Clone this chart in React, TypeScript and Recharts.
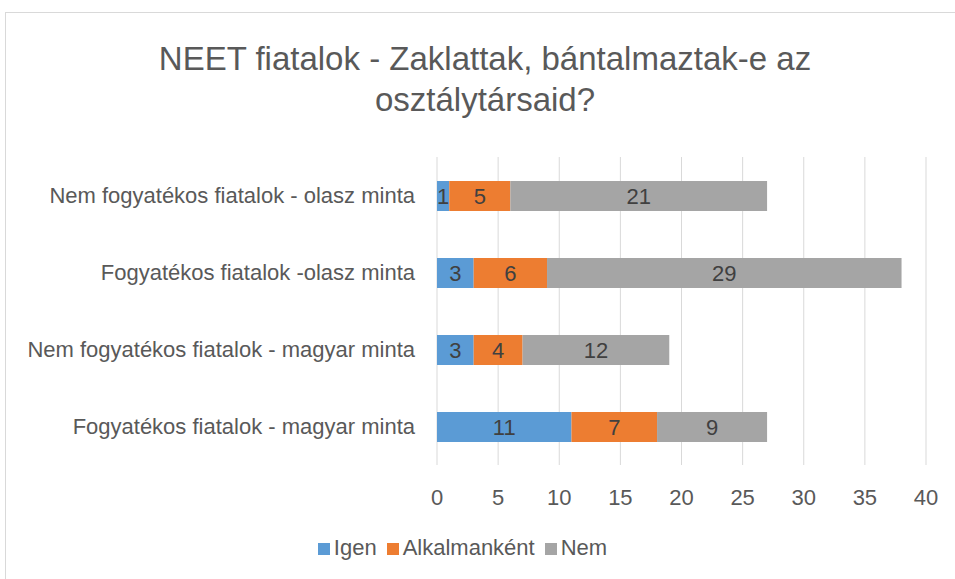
import React from 'react';
import { BarChart, Bar, XAxis, YAxis, CartesianGrid, LabelList, Legend } from 'recharts';

const categories = [
  'Nem fogyatékos fiatalok - olasz minta',
  'Fogyatékos fiatalok -olasz minta',
  'Nem fogyatékos fiatalok - magyar minta',
  'Fogyatékos fiatalok - magyar minta',
];
const seriesNames = ['Igen', 'Alkalmanként', 'Nem'];
const igen = [1, 3, 3, 11];
const alkalmankent = [5, 6, 4, 7];
const nem = [21, 29, 12, 9];
const xTicks = [0, 5, 10, 15, 20, 25, 30, 35, 40];

const data = categories.map((c, i) => ({
  name: c,
  Igen: igen[i],
  'Alkalmanként': alkalmankent[i],
  Nem: nem[i],
}));

const FONT = "'Liberation Sans', Arial, sans-serif";
const TEXT = '#595959';
const FS = 22;

export default function App() {
  return (
    <div style={{ position: 'absolute', left: 0, top: 0, width: 955, height: 579, overflow: 'hidden', background: '#fff', fontFamily: FONT }}>
      <div style={{ position: 'absolute', left: 5, top: 12, width: 970, height: 600, border: '1px solid #D9D9D9', boxSizing: 'border-box' }} />
      <div style={{ position: 'absolute', left: 0, top: 38, width: 970, textAlign: 'center', color: TEXT, fontSize: 33, lineHeight: '41px' }}>
        NEET fiatalok - Zaklattak, bántalmaztak-e az<br />osztálytársaid?
      </div>
      <div style={{ position: 'absolute', left: 0, top: 0 }}>
        <BarChart
          width={955}
          height={579}
          data={data}
          layout="vertical"
          margin={{ top: 157, right: 29, bottom: 74, left: 0 }}
          barSize={30}
        >
          <CartesianGrid horizontal={false} stroke="#D9D9D9" strokeWidth={1} />
          <XAxis
            type="number"
            domain={[0, 40]}
            ticks={xTicks}
            interval={0}
            axisLine={false}
            tickLine={false}
            tickMargin={18}
            height={40}
            tick={{ fill: TEXT, fontSize: FS, fontFamily: FONT }}
          />
          <YAxis
            type="category"
            dataKey="name"
            width={437}
            axisLine={false}
            tickLine={false}
            tickMargin={16}
            interval={0}
            tick={{ fill: TEXT, fontSize: FS, fontFamily: FONT }}
          />
          <Legend
            layout="horizontal"
            verticalAlign="middle"
            align="center"
            iconType="square"
            iconSize={12}
            itemSorter={(item: any) => seriesNames.indexOf(item.value)}
            wrapperStyle={{ top: 535, left: 0, width: 935, fontSize: FS, fontFamily: FONT }}
            formatter={(value: string) => <span style={{ color: TEXT }}>{value}</span>}
          />
          <Bar dataKey="Igen" stackId="a" fill="#5B9BD5" isAnimationActive={false}>
            <LabelList dataKey="Igen" position="center" fill="#404040" fontSize={FS} fontFamily={FONT} />
          </Bar>
          <Bar dataKey="Alkalmanként" stackId="a" fill="#ED7D31" isAnimationActive={false}>
            <LabelList dataKey="Alkalmanként" position="center" fill="#404040" fontSize={FS} fontFamily={FONT} />
          </Bar>
          <Bar dataKey="Nem" stackId="a" fill="#A5A5A5" isAnimationActive={false}>
            <LabelList dataKey="Nem" position="center" fill="#404040" fontSize={FS} fontFamily={FONT} />
          </Bar>
        </BarChart>
      </div>
    </div>
  );
}
